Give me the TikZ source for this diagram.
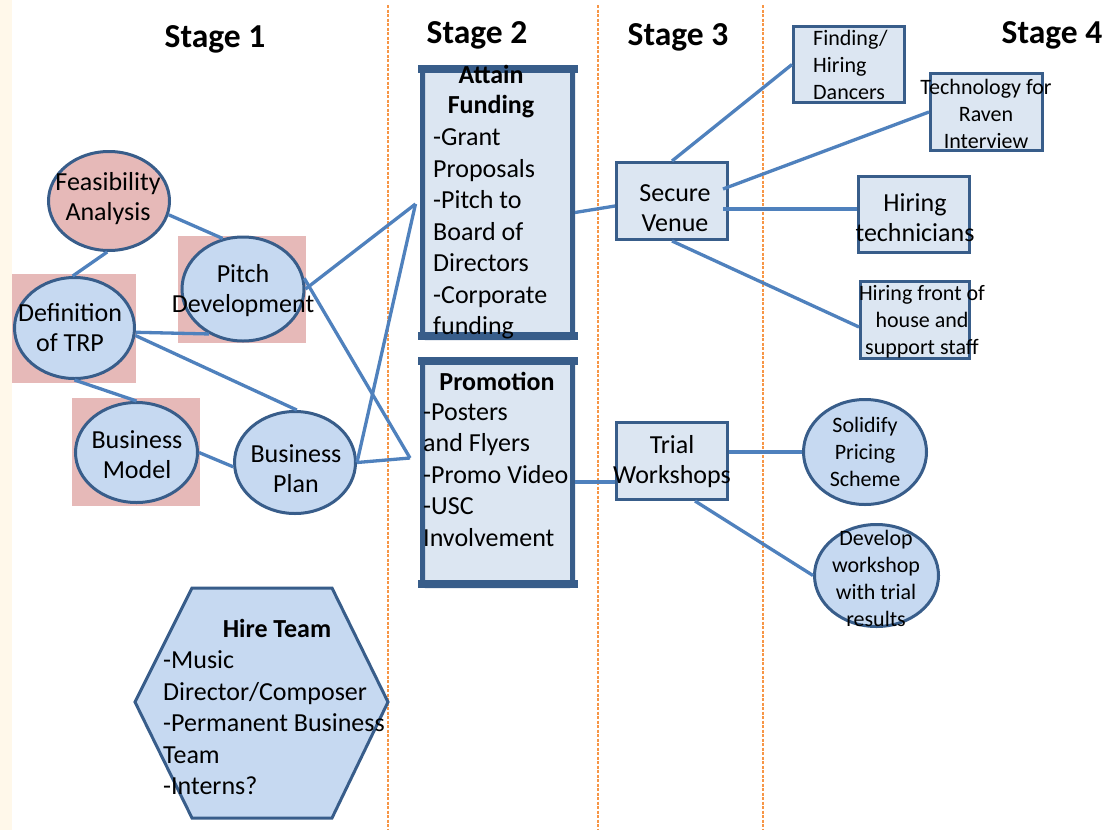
\documentclass[tikz,border=0pt]{standalone}
\usepackage{fontspec}
\setmainfont{Carlito}
\usetikzlibrary{shapes.geometric,calc}
\definecolor{edgec}{HTML}{4F81BD}
\definecolor{bordc}{HTML}{385D8A}
\definecolor{ellc}{HTML}{C6D9F1}
\definecolor{boxc}{HTML}{DCE6F2}
\definecolor{pinkc}{HTML}{E6B9B8}
\definecolor{dashc}{HTML}{F79646}
\definecolor{creamc}{HTML}{FFF8EA}
\begin{document}
\begin{tikzpicture}[x=1pt,y=-1pt,
  oval/.style={ellipse,draw=bordc,line width=3pt,fill=ellc,inner sep=0pt},
  pinkoval/.style={oval,fill=pinkc},
  sbox/.style={rectangle,draw=bordc,line width=3pt,fill=boxc,inner sep=0pt},
  bigbox/.style={rectangle,draw=bordc,line width=5pt,fill=boxc,inner sep=0pt,rounded corners=3pt},
  conn/.style={draw=edgec,line width=3.3pt},
  stagedash/.style={draw=dashc,line width=2pt,dash pattern=on 3pt off 1.5pt},
  txt/.style={inner sep=0pt,align=center,text=black,font=\fontsize{26}{30}\selectfont},
  ltxt/.style={inner sep=0pt,align=left,anchor=west,text=black,font=\fontsize{26}{31.5}\selectfont},
  btxt/.style={inner sep=0pt,align=center,text=black,font=\fontsize{26}{30}\selectfont\bfseries},
  smalltxt/.style={inner sep=0pt,align=center,text=black,font=\fontsize{22}{27}\selectfont},
  stagetxt/.style={inner sep=0pt,anchor=base,text=black,font=\fontsize{33.5}{38}\selectfont\bfseries},
  pinksq/.style={fill=pinkc}
]
% background
\fill[white] (0,0) rectangle (1105,830);
\fill[creamc] (0,0) rectangle (12,830);
\useasboundingbox (0,0) rectangle (1105,830);

% stage separators
\draw[stagedash] (388,5) -- (388,830);
\draw[stagedash] (598,5) -- (598,830);
\draw[stagedash] (763,5) -- (763,830);

% stage titles
\node[stagetxt] (s1) at (215,47) {Stage 1};
\node[stagetxt] (s2) at (477,43) {Stage 2};
\node[stagetxt] (s3) at (678,45) {Stage 3};
\node[stagetxt] (s4) at (1052,43) {Stage 4};

% pink squares
\fill[pinksq] (178,236) rectangle (306,343);
\fill[pinksq] (12,274) rectangle (136,383);
\fill[pinksq] (72,398) rectangle (200,506);

% stage 1 nodes
\node[pinkoval, minimum width=121pt, minimum height=99pt] (feas) at (109,201) {};
\node[oval, minimum width=122pt, minimum height=104pt] (pitch) at (243,289) {};
\node[oval, minimum width=120pt, minimum height=101pt] (def) at (74.5,328) {};
\node[oval, minimum width=122pt, minimum height=100pt] (bm) at (136.5,452.5) {};
\node[oval, minimum width=121pt, minimum height=102pt] (bp) at (295,462.5) {};

% hexagon
\draw[draw=bordc,line width=3pt,fill=ellc,line join=miter]
  (192,588) -- (332,588) -- (388,702) -- (332,818) -- (192,818) -- (135,702) -- cycle;

% stage 2 boxes
\node[bigbox, minimum width=150pt, minimum height=270pt] (attain) at (497.5,202.5) {};
\fill[bordc] ([xshift=-2.5pt]attain.north west) rectangle ([xshift=2.5pt,yshift=-8pt]attain.north east);
\fill[bordc] ([xshift=-2.5pt]attain.south west) rectangle ([xshift=2.5pt,yshift=8pt]attain.south east);
\node[bigbox, minimum width=150pt, minimum height=226pt] (promo) at (497.5,472.5) {};
\fill[bordc] ([xshift=-2.5pt]promo.north west) rectangle ([xshift=2.5pt,yshift=-8pt]promo.north east);
\fill[bordc] ([xshift=-2.5pt]promo.south west) rectangle ([xshift=2.5pt,yshift=8pt]promo.south east);

% stage 3 boxes
\node[sbox, minimum width=111pt, minimum height=77pt] (sv) at (672,201) {};
\node[sbox, minimum width=111pt, minimum height=77pt] (tw) at (672,461) {};

% stage 4 nodes
\node[sbox, minimum width=111pt, minimum height=76pt] (find) at (849,64.5) {};
\node[sbox, minimum width=112pt, minimum height=77pt] (tech) at (986.5,112) {};
\node[sbox, minimum width=111pt, minimum height=76pt] (htech) at (914,214.5) {};
\node[sbox, minimum width=109pt, minimum height=77pt] (hfront) at (915,320) {};
\node[oval, minimum width=123pt, minimum height=105pt] (sol) at (865,452) {};
\node[oval, minimum width=124pt, minimum height=102pt] (dev) at (876.5,575.5) {};

% convergence points
\coordinate (afin) at ([xshift=-4.5pt,yshift=-1.5pt]attain.west);
\coordinate (pin) at (410,458);

% connectors stage 1
\draw[conn] (feas.-13) -- (pitch.112);
\draw[conn] (feas.268) -- (def.92);
\draw[conn] (def.-4) -- (pitch.233);
\draw[conn] (def.-7) -- (bp.88);
\draw[conn] (def.270) -- (bm.90);
\draw[conn] (bm.0) -- (bp.184);
\draw[conn] (pitch.0) -- (afin);
\draw[conn] (pitch.10) -- (pin);
\draw[conn] (bp.0) -- (afin);
\draw[conn] (bp.0) -- (pin);

% connectors stage 2-4
\draw[conn] ([yshift=-10pt]attain.east) -- ([yshift=-5pt]sv.west);
\draw[conn] ([yshift=-9.5pt]promo.east) -- ([yshift=-21pt]tw.west);
\draw[conn] (sv.north) -- (find.west);
\draw[conn] ([xshift=-6pt,yshift=12pt]sv.east) -- (tech.west);
\draw[conn] ([xshift=-6pt,yshift=-8pt]sv.east) -- ([yshift=5.5pt]htech.west);
\draw[conn] (sv.south) -- ([yshift=-7pt]hfront.west);
\draw[conn] ([yshift=9pt]tw.east) -- (sol.west);
\draw[conn] ([xshift=23pt]tw.south) -- (dev.west);

% texts stage 1
\node[txt] (feast) at (108,199) {Feasibility\\Analysis};
\node[txt] (pitcht) at (243,291) {Pitch\\Development};
\node[txt] (deft) at (70,328) {Definition\\of TRP};
\node[txt] (bmt) at (137,455) {Business\\Model};
\node[txt] (bpt) at (296,469) {Business\\Plan};

% hire team
\node[btxt] (hiret) at (277,628) {Hire Team};
\node[ltxt] (hireb) at (163,723) {-Music\\Director/Composer\\-Permanent Business\\Team\\-Interns?};

% attain funding
\node[btxt] (attt) at (491,92) {Attain\\Funding};
\node[ltxt] (attb) at (433,234) {-Grant\\Proposals\\-Pitch to\\Board of\\Directors\\-Corporate\\funding};

% promotion
\node[btxt] (promt) at (497,381) {Promotion};
\node[ltxt] (promb) at (423,475) {-Posters\\and Flyers\\-Promo Video\\-USC\\Involvement};

% stage 3 texts
\node[txt] (svt) at (675,208) {Secure\\Venue};
\node[txt] (twt) at (672,461.5) {Trial\\Workshops};

% stage 4 texts
\node[smalltxt,align=left,anchor=west] (findt) at (813,65) {Finding/\\Hiring\\Dancers};
\node[smalltxt] (techt) at (986,113.5) {Technology for\\Raven\\Interview};
\node[txt] (htecht) at (915,218) {Hiring\\technicians};
\node[smalltxt] (hfrontt) at (922,322) {Hiring front of\\house and\\support staff};
\node[smalltxt] (solt) at (865,452) {Solidify\\Pricing\\Scheme};
\node[smalltxt] (devt) at (876,578) {Develop\\workshop\\with trial\\results};
\end{tikzpicture}
\end{document}
